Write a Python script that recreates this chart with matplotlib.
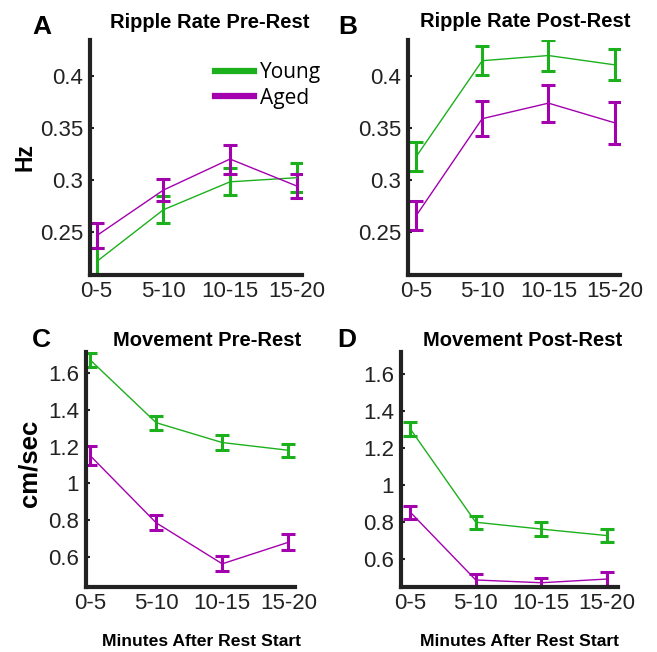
import matplotlib
matplotlib.use("Agg")
import matplotlib.pyplot as plt

plt.rcParams['font.family'] = ['Liberation Sans', 'DejaVu Sans']

bins = ["0-5", "5-10", "10-15", "15-20"]
x = [1, 2, 3, 4]

# ripple rate (Hz), mean and sem
young_ripple_pre = [0.221, 0.271, 0.298, 0.302]
young_ripple_pre_err = [0.013, 0.013, 0.013, 0.014]
aged_ripple_pre = [0.246, 0.290, 0.320, 0.294]
aged_ripple_pre_err = [0.012, 0.011, 0.014, 0.012]

young_ripple_post = [0.322, 0.415, 0.420, 0.411]
young_ripple_post_err = [0.014, 0.014, 0.015, 0.015]
aged_ripple_post = [0.265, 0.359, 0.374, 0.355]
aged_ripple_post_err = [0.014, 0.017, 0.018, 0.020]

# movement speed (cm/sec)
young_move_pre = [1.672, 1.330, 1.222, 1.180]
young_move_pre_err = [0.038, 0.038, 0.040, 0.036]
aged_move_pre = [1.152, 0.786, 0.563, 0.680]
aged_move_pre_err = [0.050, 0.040, 0.040, 0.044]

young_move_post = [1.305, 0.800, 0.763, 0.728]
young_move_post_err = [0.038, 0.035, 0.037, 0.036]
aged_move_post = [0.855, 0.488, 0.473, 0.493]
aged_move_post_err = [0.035, 0.031, 0.027, 0.036]

GREEN = "#1db01d"
MAGENTA = "#a300ae"
W, H = 657, 652

fig = plt.figure(figsize=(W / 100, H / 100), dpi=100)


def px_axes(left, top, right, bottom):
    return fig.add_axes([left / W, 1 - bottom / H, (right - left) / W, (bottom - top) / H])


def panel(ax, young, young_err, aged, aged_err, ylim, yticks, yticklabels, xlim):
    for vals, err, col, name in [(young, young_err, GREEN, "Young"), (aged, aged_err, MAGENTA, "Aged")]:
        ax.errorbar(x, vals, yerr=err, color=col, lw=1.0, elinewidth=2.2,
                    capsize=5, capthick=2.2, label=name, clip_on=True)
    ax.set_xlim(*xlim)
    ax.set_ylim(*ylim)
    ax.set_xticks(x)
    ax.set_xticklabels(bins)
    ax.set_yticks(yticks)
    ax.set_yticklabels(yticklabels)
    for s in ["top", "right"]:
        ax.spines[s].set_visible(False)
    for s in ["left", "bottom"]:
        ax.spines[s].set_linewidth(3.0)
        ax.spines[s].set_color("#222222")
    ax.tick_params(axis="y", direction="in", length=3, width=1.5, color="#222222",
                   labelsize=16, pad=5, labelcolor="#222222")
    ax.tick_params(axis="x", length=0, labelsize=16, pad=4.5, labelcolor="#222222")


ripple_ticks = [0.25, 0.3, 0.35, 0.4]
ripple_labels = ["0.25", "0.3", "0.35", "0.4"]
move_ticks = [0.6, 0.8, 1.0, 1.2, 1.4, 1.6]
move_labels = ["0.6", "0.8", "1", "1.2", "1.4", "1.6"]

axA = px_axes(90, 40, 302, 275)
panel(axA, young_ripple_pre, young_ripple_pre_err, aged_ripple_pre, aged_ripple_pre_err,
      (0.208, 0.435), ripple_ticks, ripple_labels, (0.9, 4.08))
axB = px_axes(408, 40, 620, 275)
panel(axB, young_ripple_post, young_ripple_post_err, aged_ripple_post, aged_ripple_post_err,
      (0.208, 0.435), ripple_ticks, ripple_labels, (0.88, 4.08))
axC = px_axes(86, 352, 295, 587)
panel(axC, young_move_pre, young_move_pre_err, aged_move_pre, aged_move_pre_err,
      (0.437, 1.714), move_ticks, move_labels, (0.94, 4.1))
axD = px_axes(401, 352, 618, 587)
panel(axD, young_move_post, young_move_post_err, aged_move_post, aged_move_post_err,
      (0.45, 1.72), move_ticks, move_labels, (0.86, 4.17))

# legend only on the first panel
handles = [plt.Line2D([], [], color=GREEN, lw=4.5), plt.Line2D([], [], color=MAGENTA, lw=4.5)]
axA.legend(handles, ["Young", "Aged"], loc="upper left",
           bbox_to_anchor=(215 / W, 1 - 62 / H), bbox_transform=fig.transFigure,
           frameon=False, handlelength=1.85, handletextpad=0.33, labelspacing=0.22,
           borderpad=0, borderaxespad=0,
           prop={"family": "Open Sans", "size": 15})

# panel letters and titles
letters = [("A", 32, 34), ("B", 338, 34), ("C", 32, 347), ("D", 337, 347)]
for txt, px, py in letters:
    fig.text(px / W, 1 - py / H, txt, fontsize=19, fontweight="bold", ha="left", va="baseline")

titles = [("Ripple Rate Pre-Rest", 209.5, 28), ("Ripple Rate Post-Rest", 525, 27),
          ("Movement Pre-Rest", 207, 346), ("Movement Post-Rest", 522.5, 346)]
for txt, px, py in titles:
    fig.text(px / W, 1 - py / H, txt, fontsize=14.5, fontweight="bold", ha="center", va="baseline")

fig.text(25 / W, 1 - 157 / H, "Hz", fontsize=16.5, fontweight="bold", rotation=90,
         ha="center", va="center")
fig.text(30 / W, 1 - 463 / H, "cm/sec", fontsize=18.5, fontweight="bold", rotation=90,
         ha="center", va="center")
fig.text(202 / W, 1 - 642 / H, "Minutes After Rest Start", fontsize=12.6, fontweight="bold",
         ha="center", va="center")
fig.text(519 / W, 1 - 642 / H, "Minutes After Rest Start", fontsize=12.6, fontweight="bold",
         ha="center", va="center")

fig.savefig("out.png", dpi=100)
